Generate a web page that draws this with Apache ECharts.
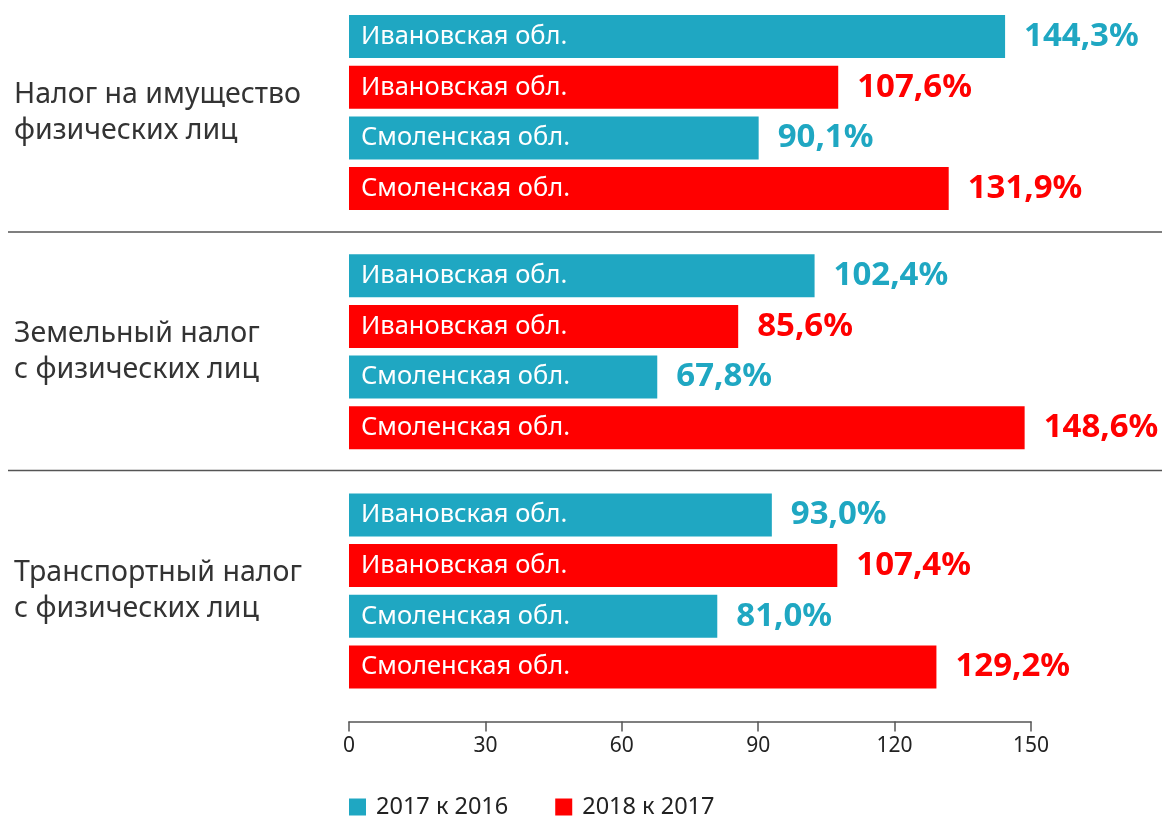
<!DOCTYPE html>
<html>
<head>
<meta charset="utf-8">
<script src="https://cdn.jsdelivr.net/npm/echarts@6/dist/echarts.min.js"></script>
<style>
  html, body { margin: 0; padding: 0; background: #fff; }
  #chart { width: 1162px; height: 819px; }
</style>
</head>
<body>
<div id="chart"></div>
<script>
  // налоги (категории)
  const categories = [
    'Налог на имущество\nфизических лиц',
    'Земельный налог\nс физических лиц',
    'Транспортный налог\nс физических лиц'
  ];
  const xTicks = [0, 30, 60, 90, 120, 150];

  // темп роста, %
  const ivanovo2017 = [144.3, 102.4, 93.0];
  const ivanovo2018 = [107.6, 85.6, 107.4];
  const smolensk2017 = [90.1, 67.8, 81.0];
  const smolensk2018 = [131.9, 148.6, 129.2];

  const rowNames = ['Ивановская обл.', 'Ивановская обл.', 'Смоленская обл.', 'Смоленская обл.'];
  const legendNames = ['2017 к 2016', '2018 к 2017'];

  const TEAL = '#1fa7c2';
  const RED = '#ff0000';
  const FONT = 'Noto Sans';

  const fmt = v => v.toFixed(1).replace('.', ',') + '%';

  const rows = [
    { data: ivanovo2017, color: TEAL, legend: legendNames[0] },
    { data: ivanovo2018, color: RED, legend: legendNames[1] },
    { data: smolensk2017, color: TEAL, legend: legendNames[0] },
    { data: smolensk2018, color: RED, legend: legendNames[1] }
  ];

  const series = [];
  rows.forEach((r, i) => {
    // сам столбик, подпись региона внутри
    series.push({
      name: r.legend,
      type: 'bar',
      stack: 'row' + i,
      barWidth: 43,
      barGap: '17.8%',
      data: r.data,
      itemStyle: { color: r.color },
      label: {
        show: true,
        position: 'insideLeft',
        distance: 12,
        formatter: rowNames[i],
        color: '#fff',
        fontFamily: FONT,
        fontSize: 25.5
      },
      silent: true
    });
    // пустой столбик в конце для подписи значения
    series.push({
      name: 'value' + i,
      type: 'bar',
      stack: 'row' + i,
      barWidth: 43,
      data: r.data.map(() => 0),
      itemStyle: { color: 'transparent' },
      label: {
        show: true,
        position: 'right',
        distance: 19,
        formatter: p => fmt(r.data[p.dataIndex]),
        color: r.color,
        fontFamily: FONT,
        fontWeight: 'bold',
        fontSize: 33
      },
      silent: true
    });
  });

  const chart = echarts.init(document.getElementById('chart'));
  chart.setOption({
    animation: false,
    textStyle: { fontFamily: FONT },
    legend: {
      data: legendNames,
      left: 349,
      top: 795,
      padding: 0,
      icon: 'rect',
      itemWidth: 17,
      itemHeight: 17,
      itemGap: 47,
      textStyle: { fontSize: 23.5, color: '#222', fontFamily: FONT, padding: [0, 0, 0, 5] },
      selectedMode: false
    },
    grid: {
      left: 349, right: 131, top: -7, bottom: 108.5,
      containLabel: false,
      outerBoundsMode: 'none'
    },
    xAxis: {
      type: 'value',
      min: xTicks[0],
      max: xTicks[xTicks.length - 1],
      interval: 30,
      offset: 11,
      axisLine: { show: true, lineStyle: { color: '#555', width: 1.5 } },
      axisTick: { show: true, length: 10, lineStyle: { color: '#555', width: 1.5 } },
      axisLabel: { margin: 14, fontSize: 21, color: '#222', fontFamily: FONT },
      splitLine: { show: false }
    },
    yAxis: {
      type: 'category',
      inverse: true,
      data: categories,
      axisLine: { show: false },
      axisTick: { show: false },
      axisLabel: {
        margin: 335,
        align: 'left',
        fontSize: 28.5,
        lineHeight: 36,
        color: '#333',
        fontFamily: FONT
      }
    },
    graphic: [
      { type: 'line', shape: { x1: 8, y1: 232, x2: 1162, y2: 232 }, style: { stroke: '#555', lineWidth: 1.5 } },
      { type: 'line', shape: { x1: 8, y1: 470.5, x2: 1162, y2: 470.5 }, style: { stroke: '#555', lineWidth: 1.5 } }
    ],
    series: series
  });
</script>
</body>
</html>
